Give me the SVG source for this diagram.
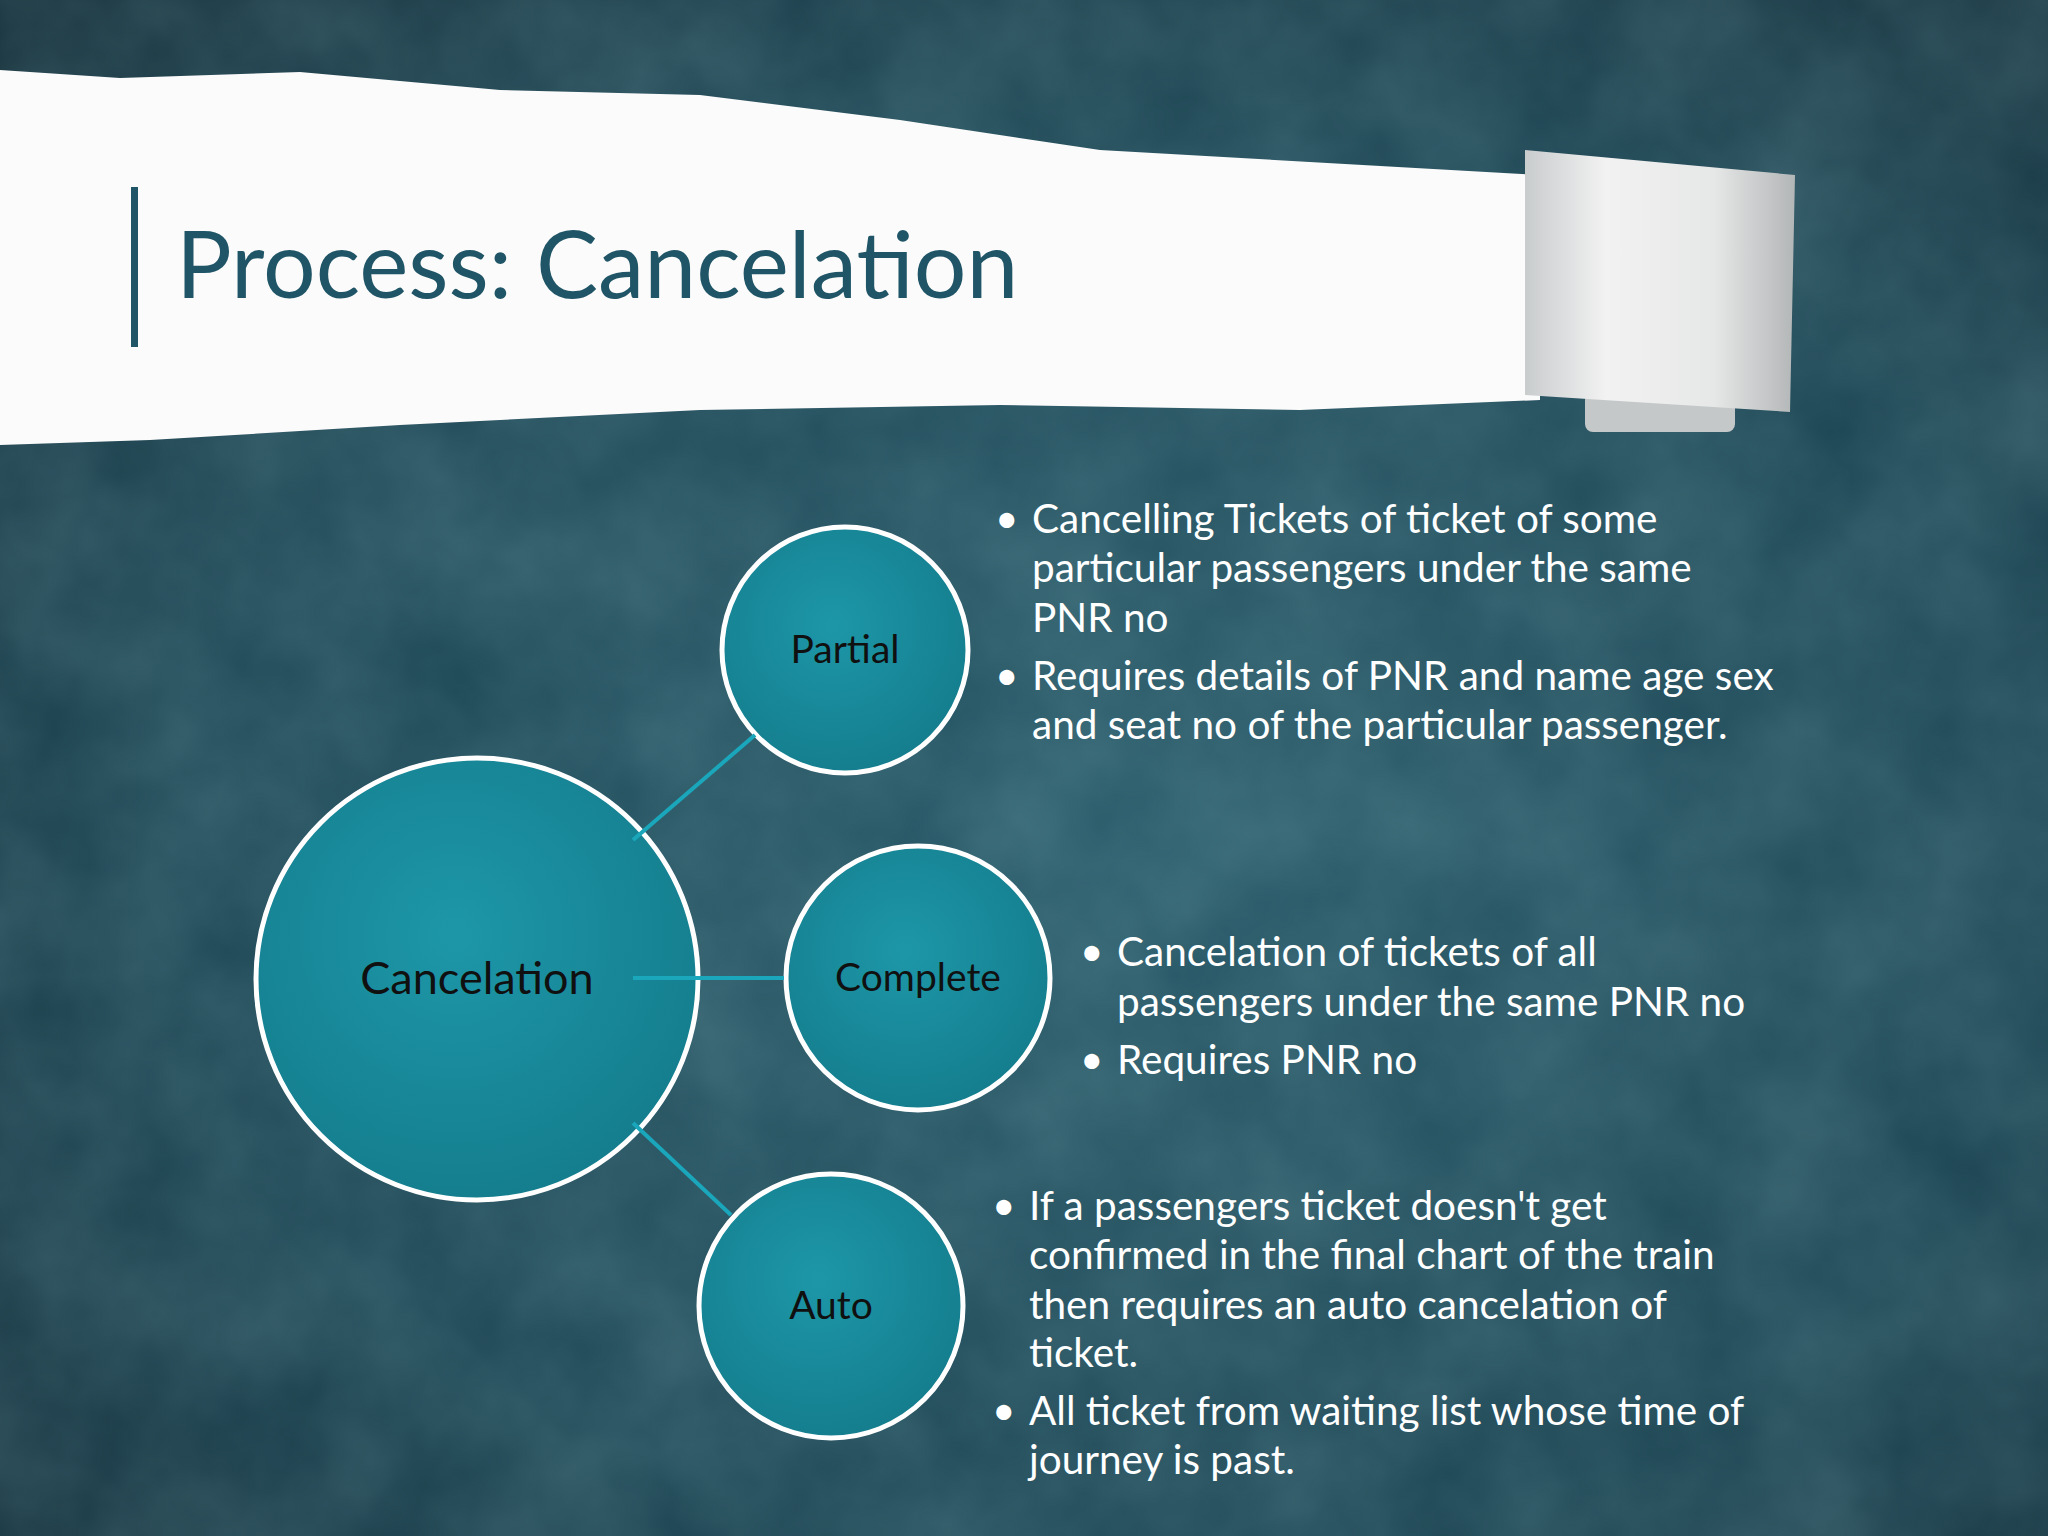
<svg xmlns="http://www.w3.org/2000/svg" width="2048" height="1536" viewBox="0 0 2048 1536">
<defs>
<radialGradient id="bg" cx="0.55" cy="0.55" r="0.8">
<stop offset="0" stop-color="#285a69"/><stop offset="0.6" stop-color="#1c4452"/><stop offset="1" stop-color="#122a34"/>
</radialGradient>
<radialGradient id="node" cx="0.45" cy="0.4" r="0.7">
<stop offset="0" stop-color="#1d97a8"/><stop offset="1" stop-color="#137a8a"/>
</radialGradient>
<linearGradient id="roll" x1="0" y1="0" x2="1" y2="0">
<stop offset="0" stop-color="#c9cccd"/><stop offset="0.3" stop-color="#f2f2f2"/><stop offset="0.7" stop-color="#e6e7e7"/><stop offset="1" stop-color="#b3b6b7"/>
</linearGradient>
<filter id="tex"><feTurbulence type="fractalNoise" baseFrequency="0.008" numOctaves="4" seed="3"/><feColorMatrix values="0 0 0 0 0.3  0 0 0 0 0.55  0 0 0 0 0.6  0 0 0 0.25 0"/></filter>
</defs>
<style>
.n{fill:url(#node);stroke:#ffffff;stroke-width:5}
.l{font-family:Lato,"Open Sans",sans-serif;fill:#101010;text-anchor:middle}
.b{font-family:Lato,"Open Sans",sans-serif;font-size:40.5px;fill:#ffffff;white-space:pre}
.c{stroke:#1aa6bb;stroke-width:4;fill:none}
</style>
<rect width="2048" height="1536" fill="url(#bg)"/>
<rect width="2048" height="1536" filter="url(#tex)"/>
<g id="paper">
<path d="M0,70 L120,78 L300,72 L500,90 L700,95 L900,120 L1100,150 L1540,175 L1540,400 L1300,410 L1000,405 L700,410 L400,425 L150,440 L0,445 Z" fill="#fbfbfb"/>
<rect x="1585" y="392" width="150" height="40" rx="8" fill="#c5c8c9"/>
<path d="M1525,150 L1795,175 L1790,412 L1525,395 Z" fill="url(#roll)"/>
</g>
<g id="title">
<rect x="131" y="187" width="7" height="160" fill="#1f5566"/>
<text x="176" y="298" font-family="Lato,'Open Sans',sans-serif" font-size="93" fill="#1f5566">Process: Cancelation</text>
</g>
<g id="cancelation"><circle class="n" cx="477" cy="979" r="221"/><text class="l" x="477" y="994" font-size="45">Cancelation</text></g>
<g id="partial"><circle class="n" cx="845" cy="650" r="123"/><text class="l" x="845" y="663" font-size="39">Partial</text></g>
<g id="complete"><circle class="n" cx="918" cy="978" r="132"/><text class="l" x="918" y="991" font-size="39">Complete</text></g>
<g id="auto"><circle class="n" cx="831" cy="1306" r="132"/><text class="l" x="831" y="1319" font-size="39">Auto</text></g>
<g id="connectors">
<line class="c" x1="633" y1="840" x2="755" y2="735"/>
<line class="c" x1="633" y1="978" x2="784" y2="978"/>
<line class="c" x1="633" y1="1123" x2="731" y2="1215"/>
</g>
<g id="partial-text" class="b">
<text x="995" y="533">•</text><text x="1032" y="533">Cancelling Tickets of ticket of some</text>
<text x="1032" y="582">particular passengers under the same</text>
<text x="1032" y="632">PNR no</text>
<text x="995" y="690">•</text><text x="1032" y="690">Requires details of  PNR and name age sex</text>
<text x="1032" y="739">and seat no of the particular passenger.</text>
</g>
<g id="complete-text" class="b">
<text x="1080" y="966">•</text><text x="1117" y="966">Cancelation of tickets of all</text>
<text x="1117" y="1016">passengers under the same PNR no</text>
<text x="1080" y="1074">•</text><text x="1117" y="1074">Requires PNR no</text>
</g>
<g id="auto-text" class="b">
<text x="992" y="1220">•</text><text x="1029" y="1220">If a passengers ticket doesn't get</text>
<text x="1029" y="1269">confirmed in the final chart of the train</text>
<text x="1029" y="1319">then requires an auto cancelation of</text>
<text x="1029" y="1367">ticket.</text>
<text x="992" y="1425">•</text><text x="1029" y="1425">All ticket from waiting list whose time of</text>
<text x="1029" y="1474">journey is past.</text>
</g>
</svg>
